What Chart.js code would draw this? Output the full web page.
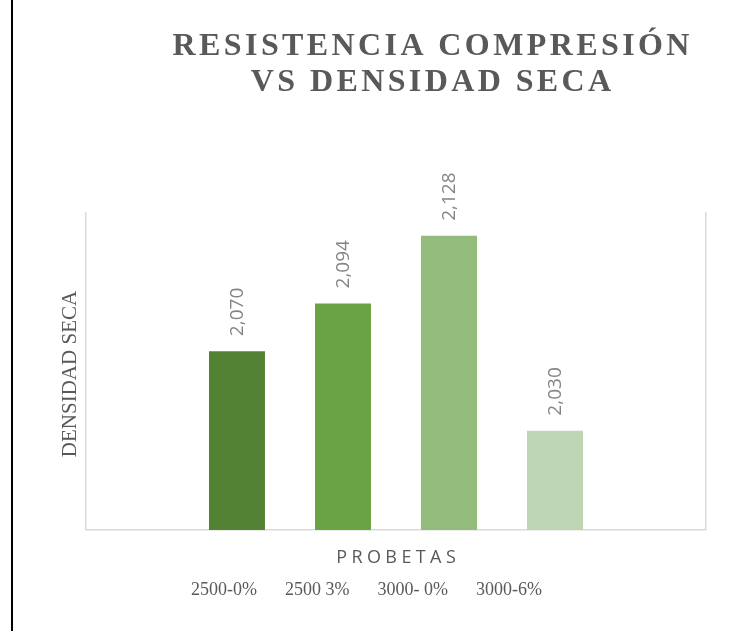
<!DOCTYPE html>
<html>
<head>
<meta charset="utf-8">
<script src="https://cdn.jsdelivr.net/npm/chart.js@4.4.0/dist/chart.umd.min.js"></script>
<style>
  html, body { margin: 0; padding: 0; background: #fff; }
  #wrap { width: 731px; height: 631px; }
</style>
</head>
<body>
<div id="wrap"><canvas id="myChart" width="731" height="631"></canvas></div>
<script>
// probetas (series) y densidad seca
const probetas = ["2500-0%", "2500 3%", "3000- 0%", "3000-6%"];
const densidad = [2070, 2094, 2128, 2030];
const barColors = ["#548235", "#6aa343", "#93bb7b", "#bed6b3"];
const titulo = ["RESISTENCIA COMPRESIÓN", "VS DENSIDAD SECA"];
const ejeX = "PROBETAS";
const ejeY = "DENSIDAD SECA";

const sans = "'Open Sans', 'Noto Sans', sans-serif";

var datasets = probetas.map(function (p, i) {
    return {
        label: p,
        data: [densidad[i]],
        backgroundColor: barColors[i],
        categoryPercentage: 0.684,
        barPercentage: 0.528
    };
});

// texto centrado con espaciado entre letras, letra por letra
function textoEspaciado(ctx, texto, cx, y, esp) {
    var anchos = Array.from(texto).map(function (c) { return ctx.measureText(c).width; });
    var total = anchos.reduce(function (a, b) { return a + b; }, 0) + esp * (anchos.length - 1);
    var x = cx - total / 2;
    ctx.textAlign = "left";
    Array.from(texto).forEach(function (c, i) {
        ctx.fillText(c, x, y);
        x += anchos[i] + esp;
    });
}

// *textos: titulo, ejes, etiquetas de valor, leyenda
const textos = {
    id: "textos",
    beforeDraw(chart) {
        var ctx = chart.ctx;
        ctx.save();
        ctx.fillStyle = "#fff";
        ctx.fillRect(0, 0, chart.width, chart.height);
        // borde izquierdo
        ctx.strokeStyle = "#000";
        ctx.lineWidth = 2;
        ctx.beginPath();
        ctx.moveTo(12, 0);
        ctx.lineTo(12, chart.height);
        ctx.stroke();
        ctx.restore();
    },
    afterDraw(chart) {
        var ctx = chart.ctx;
        var area = chart.chartArea;
        ctx.save();
        ctx.textBaseline = "alphabetic";

        // titulo
        ctx.fillStyle = "#595959";
        ctx.font = "bold 32px 'Liberation Serif'";
        textoEspaciado(ctx, titulo[0], 431, 55, 3.4);
        textoEspaciado(ctx, titulo[1], 431, 91, 3.4);

        // eje x
        ctx.font = "18px " + sans;
        textoEspaciado(ctx, ejeX, (area.left + area.right) / 2, 563, 4.4);

        // eje y
        ctx.font = "21px 'Liberation Serif'";
        ctx.save();
        ctx.translate(70, (area.top + area.bottom) / 2 + 3);
        ctx.rotate(-Math.PI / 2);
        ctx.textAlign = "center";
        ctx.textBaseline = "middle";
        ctx.fillText(ejeY, 0, 0);
        ctx.restore();

        // etiquetas de valor
        ctx.fillStyle = "#858585";
        ctx.font = "19px " + sans;
        chart.data.datasets.forEach(function (ds, i) {
            var bar = chart.getDatasetMeta(i).data[0];
            ctx.save();
            ctx.translate(bar.x + 1, bar.y - 15);
            ctx.rotate(-Math.PI / 2);
            ctx.textAlign = "left";
            ctx.textBaseline = "middle";
            ctx.fillText(new Intl.NumberFormat("en-US").format(ds.data[0]), 0, 0);
            ctx.restore();
        });

        // leyenda (sin cuadros)
        ctx.fillStyle = "#595959";
        ctx.font = "18px 'Liberation Serif'";
        ctx.textAlign = "left";
        var gap = 28;
        var widths = chart.data.datasets.map(function (ds) { return ctx.measureText(ds.label).width; });
        var total = widths.reduce(function (a, b) { return a + b; }, 0) + gap * (widths.length - 1);
        var x = chart.width / 2 - total / 2 + 1;
        chart.data.datasets.forEach(function (ds, i) {
            ctx.fillText(ds.label, x, 595);
            x += widths[i] + gap;
        });
        ctx.restore();
    }
};

function dibujar() {
    new Chart("myChart", {
        type: "bar",
        data: {
            labels: [""],
            datasets: datasets
        },
        options: {
            responsive: false,
            animation: false,
            layout: { padding: { top: 212, left: 86, right: 25, bottom: 101 } },
            plugins: {
                legend: { display: false },
                title: { display: false },
                tooltip: { enabled: false }
            },
            scales: {
                x: {
                    offset: true,
                    ticks: { display: false },
                    grid: { display: true, color: "#d9d9d9", lineWidth: 1.5, drawTicks: false, tickLength: 0 },
                    border: { display: true, color: "#d9d9d9", width: 1.5 }
                },
                y: {
                    display: false,
                    min: 1980,
                    max: 2140
                }
            }
        },
        plugins: [textos]
    });
}

Promise.all([
    document.fonts.load("bold 32px 'Liberation Serif'"),
    document.fonts.load("21px 'Liberation Serif'"),
    document.fonts.load("18px 'Open Sans'")
]).then(dibujar, dibujar);
</script>
</body>
</html>
